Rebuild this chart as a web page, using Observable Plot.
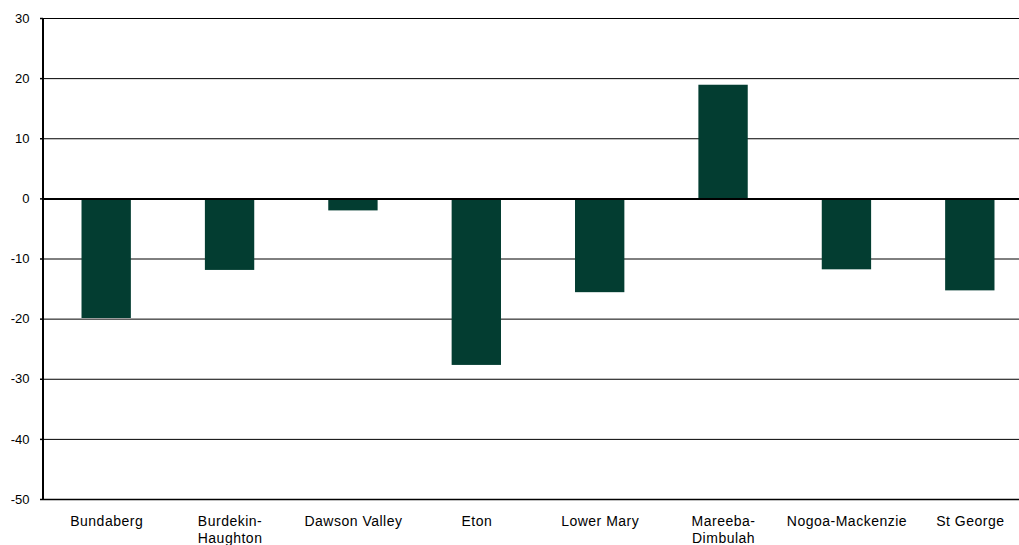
<!DOCTYPE html>
<html>
<head>
<meta charset="utf-8">
<script src="https://cdn.jsdelivr.net/npm/d3@7"></script>
<script src="https://cdn.jsdelivr.net/npm/@observablehq/plot@0.6"></script>
<style>
  html, body { margin: 0; padding: 0; background: #fff; }
  #chart svg { display: block; font-family: "Liberation Sans", Arial, sans-serif; }
</style>
</head>
<body>
<div id="chart"></div>
<script>
// Irrigation schemes and their percentage change
const regions = [
  "Bundaberg", "Burdekin-Haughton", "Dawson Valley", "Eton",
  "Lower Mary", "Mareeba-Dimbulah", "Nogoa-Mackenzie", "St George"
];
const changes = [-19.9, -11.9, -2.0, -27.7, -15.6, 18.9, -11.8, -15.3];
const yTicks = [-50, -40, -30, -20, -10, 0, 10, 20, 30];
// Two-line labels for the hyphenated names
const xLabels = {
  "Burdekin-Haughton": "Burdekin-\nHaughton",
  "Mareeba-Dimbulah": "Mareeba-\nDimbulah"
};

const data = regions.map((region, i) => ({region, change: changes[i]}));

const chart = Plot.plot({
  width: 1019,
  height: 545,
  marginTop: 18,
  marginBottom: 46,
  marginLeft: 43,
  marginRight: 0,
  style: {fontFamily: "'Liberation Sans', Arial, sans-serif", color: "#000", background: "#fff"},
  x: {domain: regions, range: [44.5, 1031.5], paddingInner: 0.6, paddingOuter: 0.3, round: false},
  y: {domain: [-50, 30]},
  marks: [
    Plot.ruleY(yTicks.filter(d => d !== 0 && d !== -50), {stroke: "#000", strokeWidth: 1}),
    Plot.barY(data, {x: "region", y: "change", fill: "#033d31"}),
    Plot.ruleY([0], {stroke: "#000", strokeWidth: 2}),
    Plot.ruleY([-50], {stroke: "#000", strokeWidth: 1.5}),
    Plot.axisY({
      ticks: yTicks, tickSize: 3, tickPadding: 11, strokeWidth: 1.5,
      fontSize: 13, label: null, tickFormat: d => String(d)
    }),
    Plot.axisX({
      tickSize: 0, tickPadding: 15, fontSize: 14, label: null,
      lineHeight: 1.2,
      tickFormat: d => xLabels[d] ?? d
    })
  ]
});

// Vertical axis line along the left edge of the frame
const svg = d3.select(chart);
svg.append("line")
  .attr("x1", 43).attr("x2", 43)
  .attr("y1", 18).attr("y2", 499)
  .attr("stroke", "#000").attr("stroke-width", 2);
svg.selectAll("[aria-label='x-axis tick label'] text").style("letter-spacing", "0.5px");

document.getElementById("chart").appendChild(chart);
</script>
</body>
</html>
